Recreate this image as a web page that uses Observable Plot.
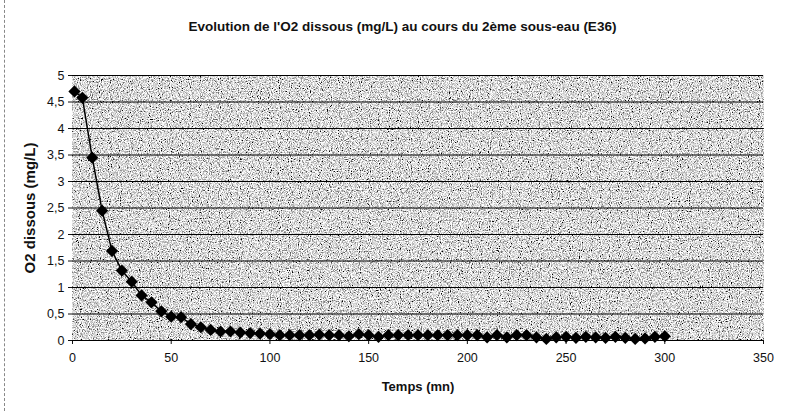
<!DOCTYPE html>
<html>
<head>
<meta charset="utf-8">
<script src="https://cdn.jsdelivr.net/npm/d3@7"></script>
<script src="https://cdn.jsdelivr.net/npm/@observablehq/plot@0.6"></script>
<style>
  html, body { margin: 0; padding: 0; background: #fff; }
  body { width: 791px; height: 411px; overflow: hidden; font-family: "Liberation Sans", Arial, sans-serif; position: relative; }
  #title { height: 50px; box-sizing: border-box; padding-top: 19px; text-align: center; font-size: 13.5px; font-weight: bold; color: #111; padding-left: 14px; }
  #frameLeft { position: absolute; left: 4px; top: 0; height: 411px; border-left: 1px dashed #888; }
</style>
</head>
<body>
<div id="frameLeft"></div>
<div id="title">Evolution de l'O2 dissous (mg/L) au cours du 2ème sous-eau (E36)</div>
<div id="chart"></div>
<script>
const temps = [1, 5, 10, 15, 20, 25, 30, 35, 40, 45, 50, 55, 60, 65, 70, 75, 80, 85, 90, 95,
  100, 105, 110, 115, 120, 125, 130, 135, 140, 145, 150, 155, 160, 165, 170, 175, 180, 185, 190, 195,
  200, 205, 210, 215, 220, 225, 230, 235, 240, 245, 250, 255, 260, 265, 270, 275, 280, 285, 290, 295, 300];
const o2 = [4.7, 4.58, 3.45, 2.45, 1.69, 1.32, 1.11, 0.85, 0.72, 0.55, 0.45, 0.44, 0.31, 0.25, 0.2, 0.17, 0.17, 0.15, 0.14, 0.13,
  0.12, 0.1, 0.1, 0.1, 0.1, 0.11, 0.1, 0.1, 0.08, 0.12, 0.1, 0.07, 0.1, 0.1, 0.1, 0.1, 0.1, 0.1, 0.1, 0.1,
  0.1, 0.1, 0.06, 0.1, 0.06, 0.1, 0.1, 0.06, 0.03, 0.06, 0.07, 0.05, 0.07, 0.06, 0.05, 0.07, 0.05, 0.03, 0.04, 0.07, 0.08];
const xTicks = [0, 50, 100, 150, 200, 250, 300, 350];
const yTicks = [0, 0.5, 1, 1.5, 2, 2.5, 3, 3.5, 4, 4.5, 5];

const data = temps.map((t, i) => ({t, v: o2[i]}));
const fmt = d => String(d).replace(".", ",");

const chart = Plot.plot({
  width: 791,
  height: 361,
  marginTop: 25,
  marginBottom: 71,
  marginLeft: 72,
  marginRight: 28,
  style: {fontFamily: "'Liberation Sans', Arial, sans-serif", fontSize: "12.5px", color: "#111", background: "transparent"},
  x: {domain: [0, 350]},
  y: {domain: [0, 5]},
  marks: [
    Plot.frame({fill: "#9e9e9e", stroke: "#555"}),
    Plot.gridY(yTicks, {stroke: "#000", strokeOpacity: 1, strokeWidth: 1}),
    Plot.axisX({ticks: xTicks, tickFormat: fmt, tickSize: 4, tickPadding: 9, label: "Temps (mn)", labelAnchor: "center", labelArrow: "none", labelOffset: 50}),
    Plot.axisY({ticks: yTicks, tickFormat: fmt, tickSize: 4, tickPadding: 4, label: "O2 dissous (mg/L)", labelAnchor: "center", labelArrow: "none", labelOffset: 48}),
    Plot.ruleY([0], {stroke: "#000"}),
    Plot.line(data, {x: "t", y: "v", stroke: "#000", strokeWidth: 1.5}),
    Plot.dot(data, {x: "t", y: "v", symbol: "diamond2", fill: "#000", stroke: "none", r: 5.5})
  ]
});
document.getElementById("chart").appendChild(chart);

// Noise texture on the plot background (style only)
const ns = "http://www.w3.org/2000/svg";
const defs = document.createElementNS(ns, "defs");
defs.innerHTML = `<filter id="grain" x="0" y="0" width="100%" height="100%">
  <feTurbulence type="fractalNoise" baseFrequency="0.9" numOctaves="2" seed="3" result="n"/>
  <feColorMatrix in="n" type="matrix" values="2.6 0 0 0 -0.6  2.6 0 0 0 -0.6  2.6 0 0 0 -0.6  0 0 0 0 1" result="g"/>
  <feComposite in="g" in2="SourceGraphic" operator="in"/>
</filter>`;
chart.insertBefore(defs, chart.firstChild);
const frameRect = chart.querySelector('[aria-label="frame"]');
if (frameRect) {
  const r = frameRect.tagName === "rect" ? frameRect : frameRect.querySelector("rect");
  if (r) r.setAttribute("filter", "url(#grain)");
}
chart.querySelectorAll('[aria-label="y-axis label"] text').forEach(t => { t.style.fontWeight = "bold"; t.style.fontSize = "15px"; });
chart.querySelectorAll('[aria-label="x-axis label"] text').forEach(t => { t.style.fontWeight = "bold"; t.style.fontSize = "13px"; });
</script>
</body>
</html>
